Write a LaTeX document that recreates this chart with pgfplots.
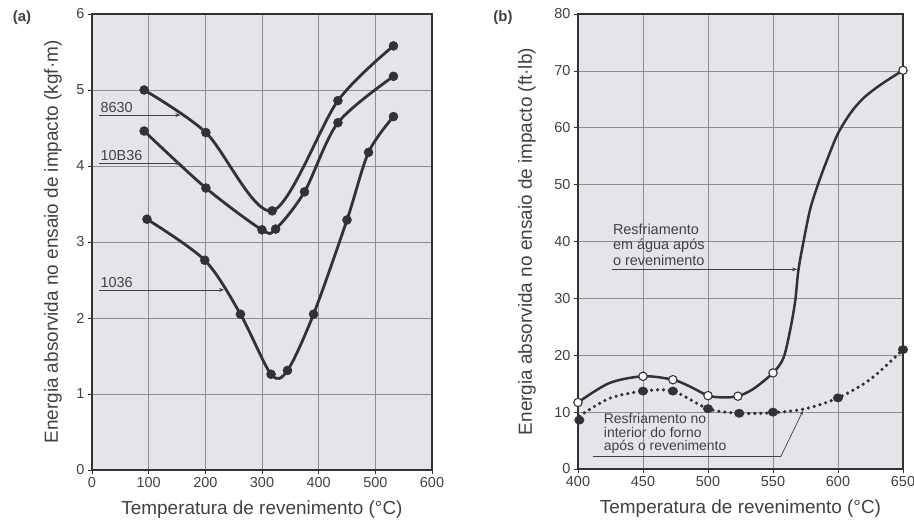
\documentclass[border=0pt]{standalone}
\usepackage{pgfplots}
\pgfplotsset{compat=1.18}
\usepackage{fontspec}
\setmainfont{Liberation Sans}
\usetikzlibrary{arrows.meta}
\definecolor{bgplot}{RGB}{228,229,233}
\definecolor{gridc}{RGB}{140,140,145}
\definecolor{linec}{RGB}{50,50,53}
\definecolor{textc}{RGB}{65,65,68}

\pgfplotstableread{
x y
92 5.00
201 4.44
318 3.41
434 4.86
532 5.58
}\tAA
\pgfplotstableread{
x y
92 4.46
201 3.71
300 3.16
324 3.17
375 3.66
434 4.57
532 5.18
}\tAB
\pgfplotstableread{
x y
97 3.30
199 2.76
262 2.05
316 1.26
345 1.31
391 2.05
450 3.29
488 4.18
532 4.65
}\tAC

\pgfplotstableread{
x y
400 11.7
424 15.1
450 16.3
473 15.7
487 14.4
500 12.9
511 12.6
523 12.8
535 14.1
550 16.9
558 19.5
563 24.2
567 29.4
569.5 34.9
573.4 39.9
578.6 45.7
585 50.3
591.5 54.3
600 59.0
610 62.7
620 65.3
633 67.6
650 70.1
}\tBWline
\pgfplotstableread{
x y
400 11.7
450 16.3
473 15.7
500 12.9
523 12.8
550 16.9
650 70.1
}\tBWpts
\pgfplotstableread{
x y
401 9.3
424 12.4
450 13.7
473 13.7
500 10.6
524 9.8
550 9.9
575 10.6
600 12.5
625 15.8
650 21.0
}\tBFline
\pgfplotstableread{
x y
401 8.6
450 13.7
473 13.7
500 10.6
524 9.8
550 10.0
600 12.5
650 21.0
}\tBFpts

\tikzset{ann/.style={font=\fontsize{14.5}{15.5}\selectfont, text=textc}}
\pgfplotsset{
  myax/.style={
    scale only axis,
    anchor=south west,
    axis background/.style={fill=bgplot},
    axis line style={linec, line width=1.5bp},
    grid=major,
    major grid style={gridc, line width=0.5bp},
    tick align=outside,
    major tick length=4bp,
    tick style={linec, line width=0.6bp},
    xtick pos=bottom, ytick pos=left,
    tick label style={font=\fontsize{14.5}{16}\selectfont, text=textc},
    label style={font=\fontsize{19}{22}\selectfont, text=textc},
    /pgf/number format/assume math mode=true,
    /pgf/number format/1000 sep={},
    clip=false,
  },
  serA/.style={linec, line width=2.8bp, smooth, mark=*, mark size=4.5bp, mark options={fill=linec, draw=linec, line width=0.5bp}},
}

\begin{document}
\begin{tikzpicture}
\path[use as bounding box] (0bp,0bp) rectangle (914bp,527bp);
\node[font=\fontsize{15}{17}\selectfont\bfseries, text=textc] at (22bp,509bp) {(a)};
\node[font=\fontsize{15}{17}\selectfont\bfseries, text=textc] at (503bp,509bp) {(b)};

\begin{axis}[myax, at={(92bp,57bp)}, width=340bp, height=456bp,
  xmin=0, xmax=600, ymin=0, ymax=6,
  xtick={0,100,...,600}, ytick={0,1,...,6},
  xlabel={Temperatura de revenimento (°C)},
  ylabel={Energia absorvida no ensaio de impacto (kgf·m)},
  xlabel style={at={(axis description cs:0.5,-0.086)}, anchor=center},
  ylabel style={at={(axis description cs:-0.115,0.5)}, anchor=center},
]
\addplot[serA] table {\tAA};
\addplot[serA] table {\tAB};
\addplot[serA] table {\tAC};
\draw[textc, line width=0.7bp, -{Stealth[length=5bp,width=4bp]}] (axis cs:13,4.67) -- (axis cs:156,4.67);
\node[ann, anchor=south west, inner sep=1bp] at (axis cs:13,4.69) {8630};
\draw[textc, line width=0.7bp, -{Stealth[length=5bp,width=4bp]}] (axis cs:13,4.04) -- (axis cs:156,4.04);
\node[ann, anchor=south west, inner sep=1bp] at (axis cs:13,4.06) {10B36};
\draw[textc, line width=0.7bp, -{Stealth[length=5bp,width=4bp]}] (axis cs:13,2.37) -- (axis cs:233,2.37);
\node[ann, anchor=south west, inner sep=1bp] at (axis cs:13,2.39) {1036};
\end{axis}

\begin{axis}[myax, at={(578bp,58bp)}, width=325bp, height=455bp,
  xmin=400, xmax=650, ymin=0, ymax=80,
  xtick={400,450,...,650}, ytick={0,10,...,80},
  xlabel={Temperatura de revenimento (°C)},
  ylabel={Energia absorvida no ensaio de impacto (ft·lb)},
  xlabel style={at={(axis description cs:0.5,-0.086)}, anchor=center},
  ylabel style={at={(axis description cs:-0.157,0.5)}, anchor=center},
]
\addplot[linec, line width=3.6bp, line cap=round, dash pattern=on 0bp off 6bp, smooth] table {\tBFline};
\addplot[only marks, mark=*, mark size=4.2bp, mark options={fill=linec, draw=linec, xscale=1.15}] table {\tBFpts};
\addplot[linec, line width=2.5bp, smooth] table {\tBWline};
\addplot[only marks, mark=*, mark size=4.2bp, mark options={fill=white, draw=linec, line width=1.1bp}] table {\tBWpts};
\node[ann, anchor=south west, align=left, inner sep=1bp] at (axis cs:426,35.6) {Resfriamento\\em água após\\o revenimento};
\draw[textc, line width=0.7bp, -{Stealth[length=5bp,width=4bp]}] (axis cs:426,35.1) -- (axis cs:568.5,35.1);
\node[ann, anchor=south west, align=left, inner sep=1bp, font=\fontsize{14}{13.5}\selectfont] at (axis cs:419,2.5) {Resfriamento no\\interior do forno\\após o revenimento};
\draw[textc, line width=0.7bp, -{Stealth[length=4bp,width=3bp]}] (axis cs:411.5,2.2) -- (axis cs:556,2.2) -- (axis cs:573,10.2);
\end{axis}
\end{tikzpicture}
\end{document}
